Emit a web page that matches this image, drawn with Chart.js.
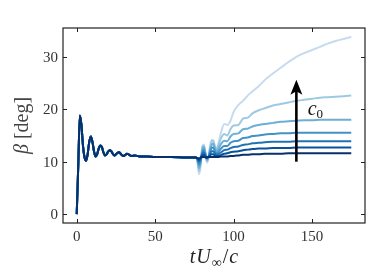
<!DOCTYPE html>
<html><head><meta charset="utf-8">
<script src="https://cdn.jsdelivr.net/npm/chart.js@4/dist/chart.umd.min.js"></script>
<style>html,body{margin:0;padding:0;background:#fff;}#wrap{width:373px;height:280px;position:relative;}</style>
</head><body><div id="wrap"><canvas id="c"></canvas></div>
<script>
// shared start-up transient (all c0 values coincide)
const earlyT    = [0, 1, 2, 3, 4, 5, 6, 7, 8, 9, 10, 11, 12, 13, 14, 15, 16, 17, 18, 19, 20, 21, 22, 23, 24, 25, 26, 27, 28, 29, 30, 31, 32, 33, 35, 37, 40, 45, 50, 60, 70, 75];
const earlyBeta = [0, 9.5, 18.8, 17.0, 13.0, 10.8, 10.2, 11.5, 13.8, 14.8, 13.8, 12.0, 11.0, 11.4, 12.5, 13.1, 12.8, 11.8, 11.2, 11.4, 11.9, 12.2, 12.0, 11.5, 11.2, 11.4, 11.7, 11.8, 11.5, 11.2, 11.1, 11.3, 11.5, 11.4, 11.1, 11.2, 11.0, 11.0, 10.9, 10.9, 10.8, 10.8];

// divergence after the disturbance
const lateT = [76, 77, 78, 79, 80, 81, 82, 83, 84, 85, 86, 87, 88, 89, 90, 92, 94, 96, 98, 100, 103, 106, 109, 112, 116, 120, 125, 130, 135, 140, 145, 150, 155, 160, 165, 170, 175];
const beta1 = [10.8, 9.8, 7.6, 9.2, 12.9, 13.3, 11.6, 9.8, 10.7, 13.0, 14.2, 14.1, 13.0, 12.4, 13.2, 15.6, 17.2, 17.0, 17.8, 19.5, 20.8, 21.6, 22.6, 23.4, 24.4, 25.6, 26.8, 27.9, 29.0, 30.0, 30.7, 31.3, 31.9, 32.5, 33.0, 33.4, 33.8];
const beta2 = [10.8, 10.0, 8.2, 9.6, 12.6, 13.1, 11.8, 10.1, 10.8, 12.7, 13.8, 14.0, 13.0, 12.4, 12.9, 14.5, 15.3, 15.0, 16.2, 16.9, 17.0, 18.2, 18.4, 19.2, 19.8, 20.2, 20.7, 21.0, 21.3, 21.6, 21.8, 22.0, 22.2, 22.3, 22.4, 22.5, 22.6];
const beta3 = [10.8, 10.2, 8.8, 9.9, 12.2, 12.8, 11.6, 10.3, 10.8, 12.3, 13.2, 13.4, 12.6, 12.0, 12.3, 13.4, 14.0, 13.9, 14.8, 15.3, 15.4, 16.2, 16.3, 16.7, 17.0, 17.2, 17.4, 17.6, 17.7, 17.8, 17.9, 17.9, 18.0, 18.0, 18.0, 18.0, 18.0];
const beta4 = [10.8, 10.4, 9.4, 10.2, 11.8, 12.3, 11.4, 10.5, 10.9, 11.9, 12.6, 12.7, 12.1, 11.6, 11.8, 12.5, 13.0, 13.0, 13.6, 13.9, 14.0, 14.5, 14.6, 14.9, 15.0, 15.2, 15.3, 15.4, 15.4, 15.5, 15.5, 15.5, 15.5, 15.5, 15.5, 15.5, 15.5];
const beta5 = [10.8, 10.5, 9.9, 10.5, 11.5, 11.8, 11.2, 10.7, 10.9, 11.5, 12.0, 12.0, 11.6, 11.3, 11.4, 11.8, 12.2, 12.3, 12.6, 12.8, 12.9, 13.2, 13.3, 13.5, 13.6, 13.7, 13.8, 13.8, 13.8, 13.9, 13.9, 13.9, 13.9, 13.9, 13.9, 13.9, 13.9];
const beta6 = [10.8, 10.6, 10.3, 10.7, 11.2, 11.3, 11.0, 10.8, 10.9, 11.2, 11.4, 11.4, 11.2, 11.1, 11.1, 11.3, 11.5, 11.6, 11.8, 11.9, 12.0, 12.2, 12.3, 12.4, 12.5, 12.5, 12.6, 12.6, 12.6, 12.7, 12.7, 12.7, 12.7, 12.7, 12.7, 12.7, 12.7];
const beta7 = [10.8, 10.7, 10.6, 10.8, 10.9, 10.9, 10.8, 10.8, 10.9, 10.9, 10.9, 10.9, 10.9, 10.9, 10.9, 11.0, 11.0, 11.0, 11.1, 11.1, 11.2, 11.3, 11.3, 11.4, 11.4, 11.5, 11.5, 11.5, 11.6, 11.6, 11.6, 11.6, 11.6, 11.6, 11.6, 11.6, 11.6];

const xTicks = [0, 50, 100, 150];
const yTicks = [0, 10, 20, 30];
// arrow (increasing c0) and its label, in data units
const arrowT = [140, 140];
const arrowBeta = [10.0, 25.6];
const labelAt = [147.2, 18.9];

const seriesBeta = [beta7, beta6, beta5, beta4, beta3, beta2, beta1]; // darkest first → drawn on top
const seriesColors = ['#08306b', '#08519c', '#2171b5', '#4292c6', '#6baed6', '#9ecae1', '#c6dbef'];

const allT = earlyT.concat(lateT);
const datasets = seriesBeta.map((late, i) => ({
  data: allT.map((t, j) => ({ x: t, y: j < earlyT.length ? earlyBeta[j] : late[j - earlyT.length] })),
  borderColor: seriesColors[i],
  borderWidth: 2,
  pointRadius: 0,
  cubicInterpolationMode: 'monotone',
  fill: false
}));

const SERIF = '"Liberation Serif", "DejaVu Serif", serif';

const deco = {
  id: 'deco',
  afterDraw(chart) {
    const ctx = chart.ctx, a = chart.chartArea, xs = chart.scales.x, ys = chart.scales.y;
    ctx.save();
    // frame
    ctx.strokeStyle = '#222'; ctx.lineWidth = 1.2;
    ctx.strokeRect(a.left, a.top, a.right - a.left, a.bottom - a.top);
    // inward ticks on all four sides
    const tl = 4;
    ctx.lineWidth = 1;
    ctx.beginPath();
    xTicks.forEach(v => { const p = Math.round(xs.getPixelForValue(v)) + 0.5;
      ctx.moveTo(p, a.bottom); ctx.lineTo(p, a.bottom - tl);
      ctx.moveTo(p, a.top); ctx.lineTo(p, a.top + tl); });
    yTicks.forEach(v => { const p = Math.round(ys.getPixelForValue(v)) + 0.5;
      ctx.moveTo(a.left, p); ctx.lineTo(a.left + tl, p);
      ctx.moveTo(a.right, p); ctx.lineTo(a.right - tl, p); });
    ctx.stroke();
    // tick labels
    ctx.fillStyle = '#333'; ctx.font = '15px ' + SERIF; ctx.textBaseline = 'alphabetic';
    ctx.textAlign = 'center';
    xTicks.forEach(v => ctx.fillText(String(v), xs.getPixelForValue(v), a.bottom + 18));
    ctx.textAlign = 'right';
    yTicks.forEach(v => ctx.fillText(String(v), a.left - 5, ys.getPixelForValue(v) + 5));
    // arrow
    const ax = xs.getPixelForValue(arrowT[0]);
    const y0 = ys.getPixelForValue(arrowBeta[0]), y1 = ys.getPixelForValue(arrowBeta[1]);
    ctx.strokeStyle = '#000'; ctx.fillStyle = '#000'; ctx.lineWidth = 2.6;
    ctx.beginPath(); ctx.moveTo(ax, y0); ctx.lineTo(ax, y1 + 10); ctx.stroke();
    ctx.beginPath(); ctx.moveTo(ax, y1); ctx.lineTo(ax - 6, y1 + 15); ctx.lineTo(ax, y1 + 11.5); ctx.lineTo(ax + 6, y1 + 15); ctx.closePath(); ctx.fill();
    // c0 label
    const lx = xs.getPixelForValue(labelAt[0]), ly = ys.getPixelForValue(labelAt[1]);
    ctx.fillStyle = '#111'; ctx.textAlign = 'left';
    ctx.font = 'italic 20px ' + SERIF;
    ctx.fillText('c', lx, ly);
    const cw = ctx.measureText('c').width;
    ctx.font = '13px ' + SERIF;
    ctx.fillText('0', lx + cw, ly + 3);
    // x title: tU∞/c
    const parts = [['t', 'italic 20px ', 0, 1], ['U', 'italic 20px ', 0, 1], ['\u221E', '14px ', 4, 1], ['/', '20px ', 0, 1], ['c', 'italic 20px ', 0, 0]];
    let total = 0;
    parts.forEach(p => { ctx.font = p[1] + SERIF; p.push(ctx.measureText(p[0]).width); total += p[4] + p[3]; });
    let x = (a.left + a.right) / 2 - total / 2;
    ctx.fillStyle = '#222';
    parts.forEach(p => { ctx.font = p[1] + SERIF; ctx.fillText(p[0], x, 263 + p[2]); x += p[4] + p[3]; });
    // y title: β [deg]
    ctx.translate(28, (a.top + a.bottom) / 2);
    ctx.rotate(-Math.PI / 2);
    ctx.fillStyle = '#444';
    ctx.font = 'italic 20px ' + SERIF; const bw = ctx.measureText('\u03B2').width;
    ctx.font = '20px ' + SERIF; const dw = ctx.measureText(' [deg]').width;
    let yx = -(bw + dw) / 2;
    ctx.font = 'italic 20px ' + SERIF; ctx.fillText('\u03B2', yx, 0);
    ctx.font = '20px ' + SERIF; ctx.fillText(' [deg]', yx + bw, 0);
    ctx.restore();
  }
};

new Chart(document.getElementById('c'), {
  type: 'line',
  data: { datasets },
  options: {
    responsive: true, maintainAspectRatio: false, animation: false,
    layout: { padding: { top: 28, right: 8, left: 0, bottom: 0 } },
    plugins: { legend: { display: false }, tooltip: { enabled: false } },
    scales: {
      x: {
        type: 'linear', min: -8.75, max: 183.75,
        grid: { display: false }, border: { display: false },
        afterBuildTicks: s => { s.ticks = xTicks.map(v => ({ value: v })); },
        afterFit: s => { s.height = 57; },
        ticks: { display: false }
      },
      y: {
        type: 'linear', min: -1.69, max: 35.49,
        grid: { display: false }, border: { display: false },
        afterBuildTicks: s => { s.ticks = yTicks.map(v => ({ value: v })); },
        afterFit: s => { s.width = 63; },
        ticks: { display: false }
      }
    }
  },
  plugins: [deco]
});
</script>
</body></html>
